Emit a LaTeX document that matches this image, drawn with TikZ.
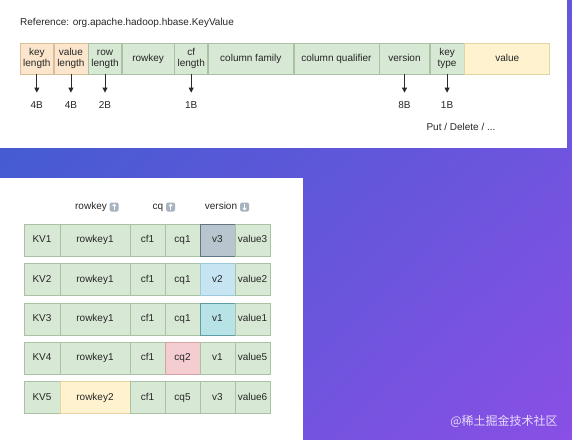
\documentclass[tikz,border=0pt]{standalone}
\usepackage{fontspec}
\setmainfont{Liberation Sans}
\newfontfamily\cjk{Noto Sans CJK SC}
\usetikzlibrary{arrows.meta,positioning,shadings}
\definecolor{bgUL}{HTML}{3A5DCE}
\definecolor{bgUR}{HTML}{6257DB}
\definecolor{bgLL}{HTML}{5A58D8}
\definecolor{bgLR}{HTML}{8A4FE6}
\definecolor{gfill}{HTML}{D7E9D4}
\definecolor{gline}{HTML}{A9C2A3}
\definecolor{ofill}{HTML}{FBE5CC}
\definecolor{oline}{HTML}{D9BE98}
\definecolor{yfill}{HTML}{FEF2CF}
\definecolor{yline}{HTML}{E4D4A2}
\definecolor{v3fill}{HTML}{B9C5CE}
\definecolor{v3line}{HTML}{647684}
\definecolor{v2fill}{HTML}{C6E4F1}
\definecolor{v2line}{HTML}{9CC8DC}
\definecolor{v1fill}{HTML}{B8E3E6}
\definecolor{v1line}{HTML}{5E9DA3}
\definecolor{pfill}{HTML}{F3CDD0}
\definecolor{pline}{HTML}{D6A2A6}
\definecolor{icongray}{HTML}{A7B3BF}
\definecolor{arrowgray}{HTML}{2A2A2A}
\tikzset{
  basecell/.style={rectangle, draw, line width=0.6pt, inner sep=0pt, align=center,
    text height=7pt, text depth=2pt,
    font=\fontsize{10}{11}\selectfont, text=black!85},
  twoline/.style={text height=18pt, text depth=2pt},
  gcell/.style={basecell, fill=gfill, draw=gline},
  ocell/.style={basecell, fill=ofill, draw=oline},
  ycell/.style={basecell, fill=yfill, draw=yline},
  vthree/.style={basecell, fill=v3fill, draw=v3line},
  vtwo/.style={basecell, fill=v2fill, draw=v2line},
  vone/.style={basecell, fill=v1fill, draw=v1line},
  pcell/.style={basecell, fill=pfill, draw=pline},
  barcell/.style={minimum height=31pt, anchor=west},
  rowcell/.style={minimum height=32pt},
  lbl/.style={inner sep=0pt, text height=7pt, text depth=2pt, font=\fontsize{10}{11}\selectfont, text=black!85},
  arr/.style={draw=arrowgray, line width=0.8pt, -{Triangle[length=5pt,width=5pt]}, shorten >=9pt},
  iconbox/.style={rectangle, rounded corners=1.5pt, fill=icongray, minimum size=9pt, inner sep=0pt},
  iconarr/.style={draw=white, line width=1.1pt, -{Triangle[length=2.6pt,width=4.4pt]}},
}
\begin{document}
\begin{tikzpicture}[x=1pt,y=-1pt]
\useasboundingbox (0,0) rectangle (572,439);
% background gradient
\shade[upper left=bgUL, upper right=bgUR, lower left=bgLL, lower right=bgLR] (-1,-1) rectangle (573,440);
% white panels
\fill[white] (-1,-1) rectangle (567,148);
\fill[white] (-1,178) rectangle (303,441);

% ---------- top: KeyValue layout ----------
\node[lbl, anchor=west] (title) at (20,23) {Reference: org.apache.hadoop.hbase.KeyValue};

\node[ocell, barcell, twoline, minimum width=33pt] (kl) at (20,58.5) {key\\length};
\node[ocell, barcell, twoline, minimum width=34pt] (vl) at (kl.east) {value\\length};
\node[gcell, barcell, twoline, minimum width=33pt] (rl) at (vl.east) {row\\length};
\node[gcell, barcell, minimum width=52pt] (rk) at (rl.east) {rowkey};
\node[gcell, barcell, twoline, minimum width=33pt] (cl) at (rk.east) {cf\\length};
\node[gcell, barcell, minimum width=85pt] (cfam) at (cl.east) {column family};
\node[gcell, barcell, minimum width=85pt] (cqual) at (cfam.east) {column qualifier};
\node[gcell, barcell, minimum width=50pt] (ver) at (cqual.east) {version};
\node[gcell, barcell, twoline, minimum width=34pt] (kt) at (ver.east) {key\\type};
\node[ycell, barcell, minimum width=85pt] (val) at (kt.east) {value};

\node[lbl] (b1) at ([yshift=-32pt]kl.south) {4B};
\node[lbl] (b2) at ([yshift=-32pt]vl.south) {4B};
\node[lbl] (b3) at ([yshift=-32pt]rl.south) {2B};
\node[lbl] (b4) at ([yshift=-32pt]cl.south) {1B};
\node[lbl] (b5) at ([yshift=-32pt]ver.south) {8B};
\node[lbl] (b6) at ([yshift=-32pt]kt.south) {1B};
\draw[arr] (kl.south) -- (b1.north);
\draw[arr] (vl.south) -- (b2.north);
\draw[arr] (rl.south) -- (b3.north);
\draw[arr] (cl.south) -- (b4.north);
\draw[arr] (ver.south) -- (b5.north);
\draw[arr] (kt.south) -- (b6.north);
\node[lbl] (pd) at (461,128) {Put / Delete / ...};

% ---------- bottom: sorted KVs ----------
\node[lbl] (h1) at (91,207) {rowkey};
\node[iconbox, right=2.5pt of h1] (i1) {};
\draw[iconarr] ([yshift=-3.2pt]i1.center) -- ([yshift=3.4pt]i1.center);
\node[lbl] (h2) at (158,207) {cq};
\node[iconbox, right=2.5pt of h2] (i2) {};
\draw[iconarr] ([yshift=-3.2pt]i2.center) -- ([yshift=3.4pt]i2.center);
\node[lbl] (h3) at (221,207) {version};
\node[iconbox, right=2.5pt of h3] (i3) {};
\draw[iconarr] ([yshift=3.2pt]i3.center) -- ([yshift=-3.4pt]i3.center);

\foreach \i/\y/\rk/\rkc/\cq/\cqc/\v/\vc/\val in {
  1/240/rowkey1/gcell/cq1/gcell/v3/vthree/value3,
  2/279.5/rowkey1/gcell/cq1/gcell/v2/vtwo/value2,
  3/319/rowkey1/gcell/cq1/gcell/v1/vone/value1,
  4/358/rowkey1/gcell/cq2/pcell/v1/gcell/value5,
  5/397.5/rowkey2/ycell/cq5/gcell/v3/gcell/value6} {
  \node[gcell, rowcell, minimum width=36pt] (k\i) at (42,\y) {KV\i};
  \node[\rkc, rowcell, minimum width=70pt] (r\i) at (95,\y) {\rk};
  \node[gcell, rowcell, minimum width=35pt] (f\i) at (147.5,\y) {cf1};
  \node[\cqc, rowcell, minimum width=35pt] (q\i) at (182.5,\y) {\cq};
  \node[\vc, rowcell, minimum width=35pt] (v\i) at (217.5,\y) {\v};
  \node[gcell, rowcell, minimum width=35pt] (w\i) at (252.5,\y) {\val};
}

% site mark
\node[text=white, opacity=0.8, font=\cjk\fontsize{12}{12}\selectfont] (site) at (504,421) {@稀土掘金技术社区};
\end{tikzpicture}
\end{document}
